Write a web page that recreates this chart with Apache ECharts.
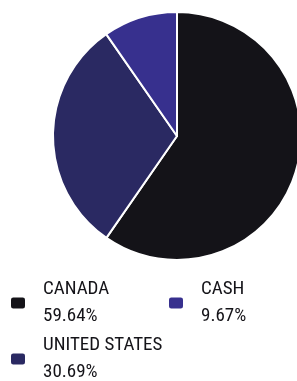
<!DOCTYPE html>
<html><head><meta charset="utf-8">
<script src="https://cdn.jsdelivr.net/npm/echarts@6/dist/echarts.min.js"></script>
<style>html,body{margin:0;padding:0;background:#fff}#c{width:297px;height:381px}</style>
</head><body><div id="c"></div>
<script>
const categories = ["CANADA", "UNITED STATES", "CASH"];
const values = [59.64, 30.69, 9.67];
const colors = ["#141318", "#2a2962", "#37308e"];

const chart = echarts.init(document.getElementById('c'), null, {renderer: 'canvas'});
const legendPos = [
  {left: 9, top: 276},
  {left: 9, top: 332},
  {left: 167, top: 276}
];
const legends = categories.map((name, i) => ({
  data: [name],
  left: legendPos[i].left,
  top: legendPos[i].top,
  padding: 0,
  itemWidth: 16,
  itemHeight: 13,
  icon: 'roundRect',
  selectedMode: false,
  formatter: n => n + '\n' + values[categories.indexOf(n)].toFixed(2) + '%',
  textStyle: {
    fontFamily: "Roboto, sans-serif",
    fontStyle: 'condensed',
    fontSize: 19,
    lineHeight: 27,
    color: '#141318',
    padding: [0, 0, 0, 12]
  }
}));
chart.setOption({
  animation: false,
  color: colors,
  legend: legends,
  series: [{
    type: 'pie',
    center: [177, 136],
    radius: [0, 124],
    startAngle: 90,
    clockwise: true,
    label: {show: false},
    labelLine: {show: false},
    emphasis: {disabled: true},
    itemStyle: {borderColor: '#ffffff', borderWidth: 2},
    data: categories.map((c, i) => ({name: c, value: values[i]}))
  }]
});
</script></body></html>
